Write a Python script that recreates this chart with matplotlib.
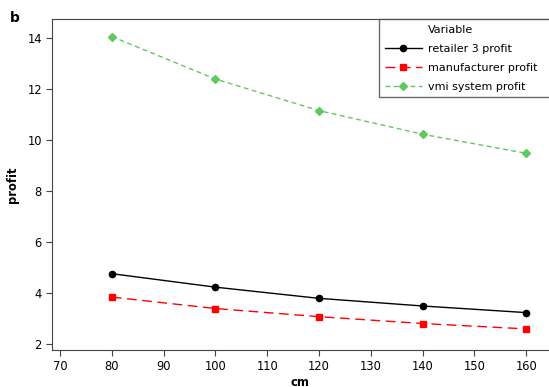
import matplotlib.pyplot as plt

# data
cm = [80, 100, 120, 140, 160]
retailer3 = [4.75, 4.22, 3.78, 3.48, 3.22]
manufacturer = [3.83, 3.38, 3.06, 2.79, 2.58]
vmi_system = [14.07, 12.40, 11.16, 10.23, 9.48]
xticks = [70, 80, 90, 100, 110, 120, 130, 140, 150, 160]
yticks = [2, 4, 6, 8, 10, 12, 14]

plt.rcParams['font.family'] = 'DejaVu Sans'

fig = plt.figure(figsize=(5.49, 3.87), dpi=100)
left, right, top, bottom = 51.7, 549.0, 19.0, 350.0
ax = fig.add_axes([left / 549, 1 - bottom / 387, (right - left) / 549, (bottom - top) / 387])

# invisible entry used as legend title so it lines up with the labels
ax.plot([], [], color='none', label='Variable')
ax.plot(cm, retailer3, color='black', lw=1.0, marker='o', ms=4.5, label='retailer 3 profit')
ax.plot(cm, manufacturer, color='#ff0000', lw=1.0, ls=(0, (7, 4)), marker='s', ms=4.3,
        label='manufacturer profit')
ax.plot(cm, vmi_system, color='#5fc95f', lw=1.0, ls=(0, (3.5, 2.5)), marker='D', ms=4.3,
        label='vmi system profit')

ax.set_xlim(68.4, 164.4)
ax.set_ylim(1.75, 14.76)
ax.set_xticks(xticks)
ax.set_yticks(yticks)
ax.tick_params(labelsize=8.3, length=4, width=0.8, color='#444444', pad=3)
ax.spines['right'].set_visible(False)
for s in ['left', 'bottom', 'top']:
    ax.spines[s].set_color('#444444')

ax.set_xlabel('cm', fontsize=8.3, fontweight='bold', labelpad=2)
ax.set_ylabel('profit', fontsize=8.3, fontweight='bold', labelpad=6)

# legend box runs off the right edge like the reference
x0 = (379.3 - left) / (right - left)
leg = ax.legend(loc='upper left', bbox_to_anchor=(x0, 0.0, 1.1 - x0, 1.0), mode='expand',
                fontsize=8, frameon=True, fancybox=False, borderaxespad=0,
                handlelength=3.3, handletextpad=0.6, labelspacing=0.82, borderpad=0.5)
leg.get_frame().set_edgecolor('#444444')
leg.get_frame().set_linewidth(1.0)

fig.text(10 / 549, 1 - 18 / 387, 'b', fontsize=10, fontweight='bold', va='center', ha='left')

plt.savefig('out.png', dpi=100)
